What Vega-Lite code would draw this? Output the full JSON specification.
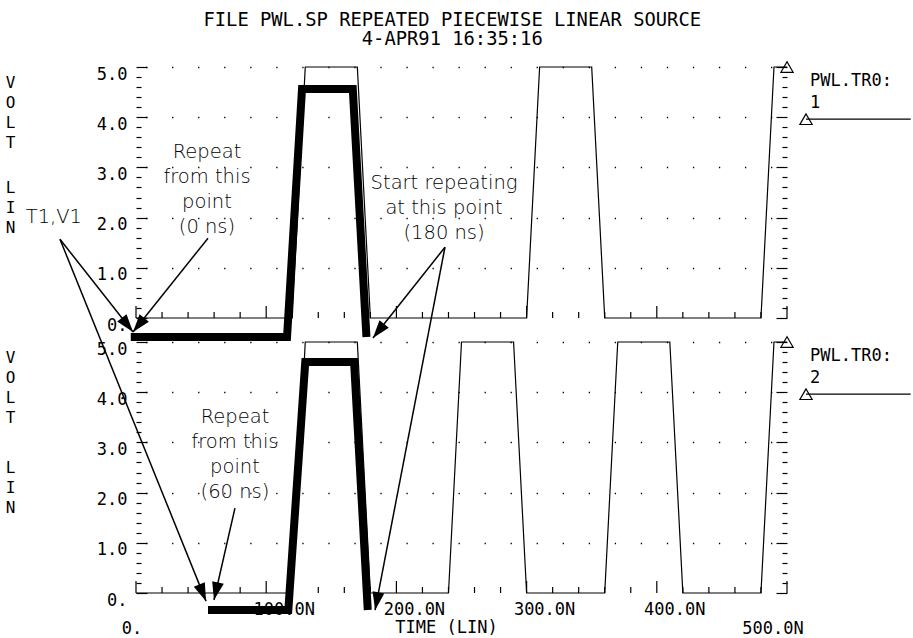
{
  "$schema": "https://vega.github.io/schema/vega-lite/v6.json",
  "background": "white",
  "padding": {"left": 5, "top": 10, "right": 0, "bottom": 4},
  "config": {"view": {"stroke": null}},
  "title": {"text": ["FILE PWL.SP REPEATED PIECEWISE LINEAR SOURCE", "4-APR91 16:35:16"], "font": "DejaVu Sans Mono", "fontSize": 18.8, "fontWeight": "normal", "lineHeight": 19.5, "color": "black", "anchor": "middle", "offset": 10, "dx": -6},
  "datasets": {
    "trace1": [{"t":0,"v":0},{"t":120,"v":0},{"t":130,"v":5},{"t":170,"v":5},{"t":180,"v":0},{"t":300,"v":0},{"t":310,"v":5},{"t":350,"v":5},{"t":360,"v":0},{"t":480,"v":0},{"t":490,"v":5},{"t":500,"v":5}],
    "trace2": [{"t":0,"v":0},{"t":120,"v":0},{"t":130,"v":5},{"t":170,"v":5},{"t":180,"v":0},{"t":240,"v":0},{"t":250,"v":5},{"t":290,"v":5},{"t":300,"v":0},{"t":360,"v":0},{"t":370,"v":5},{"t":410,"v":5},{"t":420,"v":0},{"t":480,"v":0},{"t":490,"v":5},{"t":500,"v":5}],
    "ann1": [{"t":-4,"v":-0.38},{"t":116,"v":-0.38},{"t":127.5,"v":4.56},{"t":166.5,"v":4.56},{"t":177,"v":-0.38}],
    "ann2": [{"t":55.3,"v":-0.34},{"t":117,"v":-0.34},{"t":130,"v":4.6},{"t":167.5,"v":4.6},{"t":178,"v":-0.34}],
    "arrows1": [{"t1":-58.4,"v1":1.57,"t2":-2.3,"v2":-0.28},{"t1":55.3,"v1":1.59,"t2":-2.3,"v2":-0.28},{"t1":-58.4,"v1":1.57,"t2":53.8,"v2":-5.64},{"t1":237.3,"v1":1.41,"t2":182.0,"v2":-0.40},{"t1":237.3,"v1":1.41,"t2":183.6,"v2":-5.82}],
    "arrows2": [{"t1":76.0,"v1":1.69,"t2":59.9,"v2":-0.14}],
    "notes1": [{"t":54.5,"v":3.31,"label":"Repeat\nfrom this\npoint\n(0 ns)"},{"t":236.6,"v":2.69,"label":"Start repeating\nat this point\n(180 ns)"},{"t":-63.1,"v":2.01,"label":"T1,V1"}],
    "notes2": [{"t":76.0,"v":3.51,"label":"Repeat\nfrom this\npoint\n(60 ns)"}],
    "tri": [{"t":500,"v":5},{"t":514.6,"v":3.96}],
    "legline": [{"t":514.6,"t2":595,"v":3.96}],
    "leg1": [{"t":517.7,"v":4.72,"label":"PWL.TR0:"},{"t":517.7,"v":4.28,"label":"1"}],
    "leg2": [{"t":517.7,"v":4.72,"label":"PWL.TR0:"},{"t":517.7,"v":4.28,"label":"2"}],
    "xticks": [{"t":0},{"t":20},{"t":40},{"t":60},{"t":80},{"t":100},{"t":120},{"t":140},{"t":160},{"t":180},{"t":200},{"t":220},{"t":240},{"t":260},{"t":280},{"t":300},{"t":320},{"t":340},{"t":360},{"t":380},{"t":400},{"t":420},{"t":440},{"t":460},{"t":480},{"t":500}],
    "xlabels": [{"t":0,"label":"0."},{"t":100,"label":"100.0N"},{"t":200,"label":"200.0N"},{"t":300,"label":"300.0N"},{"t":400,"label":"400.0N"},{"t":500,"label":"500.0N"}],
    "xtitle": [{"label":"TIME (LIN)"}]
  },
  "spacing": 24,
  "bounds": "flush",
  "vconcat": [
    {
      "width": 651, "height": 251,
      "resolve": {"axis": {"y": "independent"}},
      "layer": [
        {
          "data": {"name": "trace1"},
          "mark": {"type": "line", "color": "black", "strokeWidth": 1.2, "clip": false},
          "encoding": {
            "x": {"field": "t", "type": "quantitative", "scale": {"domain": [0, 500], "nice": false, "zero": false},
              "axis": {"values": [0,100,200,300,400,500], "domain": false, "ticks": false, "labels": false, "title": null,
                "grid": true, "gridColor": "black", "gridWidth": 1.3, "gridDash": [1.3, 23.8],
                "gridOpacity": {"condition": {"test": "datum.value > 0 && datum.value < 500", "value": 1}, "value": 0}}},
            "y": {"field": "v", "type": "quantitative", "scale": {"domain": [0, 5], "nice": false, "zero": false},
              "axis": {"orient": "left", "values": [0,0.2,0.4,0.6,0.8,1,1.2,1.4,1.6,1.8,2,2.2,2.4,2.6,2.8,3,3.2,3.4,3.6,3.8,4,4.2,4.4,4.6,4.8,5], "domain": false, "tickColor": "black", "tickWidth": 1.2,
                "tickSize": {"condition": {"test": "datum.value === round(datum.value)", "value": -11}, "value": -5},
                "labelExpr": "datum.value === round(datum.value) ? (datum.value === 0 ? '0.' : format(datum.value, '.1f')) : ''",
                "labelFont": "DejaVu Sans Mono", "labelFontSize": 17, "labelColor": "black", "labelPadding": 20, "labelOffset": 7, "labelOverlap": false, "labelBound": false, "labelFlush": false,
                "grid": true, "gridColor": "black", "gridWidth": 1.3, "gridDash": [1.3, 24.74], "gridDashOffset": 16.5,
                "gridOpacity": {"condition": {"test": "datum.value === round(datum.value) && datum.value > 0", "value": 1}, "value": 0},
                "title": ["V","O","L","T"], "titleAngle": 0, "titleFont": "DejaVu Sans Mono", "titleFontSize": 16, "titleFontWeight": "normal", "titleColor": "black", "titleLineHeight": 20.3, "titleX": -126, "titleY": 15, "titleAlign": "center", "titleBaseline": "middle"}}
          }
        },
        {
          "data": {"name": "tri"},
          "mark": {"type": "point", "shape": "triangle-up", "size": 150, "filled": false, "color": "black", "strokeWidth": 1.2, "opacity": 1, "clip": false},
          "encoding": {
            "x": {"field": "t", "type": "quantitative", "scale": {"domain": [0, 500], "nice": false, "zero": false}, "axis": null},
            "y": {"field": "v", "type": "quantitative", "scale": {"domain": [0, 5], "nice": false, "zero": false},
              "axis": {"orient": "right", "values": [0,0.2,0.4,0.6,0.8,1,1.2,1.4,1.6,1.8,2,2.2,2.4,2.6,2.8,3,3.2,3.4,3.6,3.8,4,4.2,4.4,4.6,4.8,5], "domain": false, "labels": false, "grid": false, "tickColor": "black", "tickWidth": 1.2,
                "tickSize": {"condition": {"test": "datum.value === round(datum.value)", "value": -11}, "value": -5},
                "title": ["L","I","N"], "titleAngle": 0, "titleFont": "DejaVu Sans Mono", "titleFontSize": 16, "titleFontWeight": "normal", "titleColor": "black", "titleLineHeight": 20.3, "titleX": -777, "titleY": 120, "titleAlign": "center", "titleBaseline": "middle"}}
          }
        },
        {
          "data": {"name": "xticks"},
          "transform": [{"filter": "datum.t % 100 !== 0"}],
          "mark": {"type": "rule", "color": "black", "strokeWidth": 1.2, "clip": false},
          "encoding": {
            "x": {"field": "t", "type": "quantitative", "scale": {"domain": [0, 500], "nice": false, "zero": false}, "axis": null},
            "y": {"datum": 0, "type": "quantitative", "scale": {"domain": [0, 5], "nice": false, "zero": false}, "axis": null},
            "y2": {"datum": 0.12}
          }
        },
        {
          "data": {"name": "xticks"},
          "transform": [{"filter": "datum.t % 100 === 0"}],
          "mark": {"type": "rule", "color": "black", "strokeWidth": 1.2, "clip": false},
          "encoding": {
            "x": {"field": "t", "type": "quantitative", "scale": {"domain": [0, 500], "nice": false, "zero": false}, "axis": null},
            "y": {"datum": 0, "type": "quantitative", "scale": {"domain": [0, 5], "nice": false, "zero": false}, "axis": null},
            "y2": {"datum": 0.24}
          }
        },
        {
          "data": {"name": "ann1"},
          "mark": {"type": "line", "color": "black", "strokeWidth": 8, "strokeJoin": "miter", "strokeCap": "butt", "clip": false},
          "encoding": {
            "x": {"field": "t", "type": "quantitative", "scale": {"domain": [0, 500], "nice": false, "zero": false}, "axis": null},
            "y": {"field": "v", "type": "quantitative", "scale": {"domain": [0, 5], "nice": false, "zero": false}, "axis": null}
          }
        },
        {
          "data": {"name": "arrows1"},
          "mark": {"type": "rule", "color": "black", "strokeWidth": 1.5, "clip": false},
          "encoding": {
            "x": {"field": "t1", "type": "quantitative", "scale": {"domain": [0, 500], "nice": false, "zero": false}, "axis": null},
            "y": {"field": "v1", "type": "quantitative", "scale": {"domain": [0, 5], "nice": false, "zero": false}, "axis": null},
            "x2": {"field": "t2"},
            "y2": {"field": "v2"}
          }
        },
        {
          "data": {"name": "arrows1"},
          "transform": [{"calculate": "atan2((datum.t2 - datum.t1) * 651 / 500, (datum.v2 - datum.v1) * 251 / 5) * 180 / PI", "as": "ang"}],
          "mark": {"type": "point", "shape": "M0,0L-0.33,1L0.33,1Z", "size": 1300, "filled": true, "color": "black", "opacity": 1, "strokeWidth": 0, "clip": false},
          "encoding": {
            "x": {"field": "t2", "type": "quantitative", "scale": {"domain": [0, 500], "nice": false, "zero": false}, "axis": null},
            "y": {"field": "v2", "type": "quantitative", "scale": {"domain": [0, 5], "nice": false, "zero": false}, "axis": null},
            "angle": {"field": "ang", "type": "quantitative", "scale": null}
          }
        },
        {
          "data": {"name": "notes1"},
          "mark": {"type": "text", "font": "DejaVu Sans", "fontWeight": 200, "fontSize": 19.5, "lineHeight": 25, "lineBreak": "\n", "align": "center", "baseline": "middle", "color": "black", "clip": false},
          "encoding": {
            "x": {"field": "t", "type": "quantitative", "scale": {"domain": [0, 500], "nice": false, "zero": false}, "axis": null},
            "y": {"field": "v", "type": "quantitative", "scale": {"domain": [0, 5], "nice": false, "zero": false}, "axis": null},
            "text": {"field": "label"}
          }
        },
        {
          "data": {"name": "leg1"},
          "mark": {"type": "text", "font": "DejaVu Sans Mono", "fontSize": 17, "align": "left", "baseline": "middle", "color": "black", "clip": false},
          "encoding": {
            "x": {"field": "t", "type": "quantitative", "scale": {"domain": [0, 500], "nice": false, "zero": false}, "axis": null},
            "y": {"field": "v", "type": "quantitative", "scale": {"domain": [0, 5], "nice": false, "zero": false}, "axis": null},
            "text": {"field": "label"}
          }
        },
        {
          "data": {"name": "legline"},
          "mark": {"type": "rule", "color": "black", "strokeWidth": 1.2, "clip": false},
          "encoding": {
            "x": {"field": "t", "type": "quantitative", "scale": {"domain": [0, 500], "nice": false, "zero": false}, "axis": null},
            "x2": {"field": "t2"},
            "y": {"field": "v", "type": "quantitative", "scale": {"domain": [0, 5], "nice": false, "zero": false}, "axis": null}
          }
        }
      ]
    },
    {
      "width": 651, "height": 251,
      "resolve": {"axis": {"y": "independent"}},
      "layer": [
        {
          "data": {"name": "trace2"},
          "mark": {"type": "line", "color": "black", "strokeWidth": 1.2, "clip": false},
          "encoding": {
            "x": {"field": "t", "type": "quantitative", "scale": {"domain": [0, 500], "nice": false, "zero": false},
              "axis": {"values": [0,100,200,300,400,500], "domain": false, "ticks": false, "labels": false, "title": null,
                "grid": true, "gridColor": "black", "gridWidth": 1.3, "gridDash": [1.3, 23.8],
                "gridOpacity": {"condition": {"test": "datum.value > 0 && datum.value < 500", "value": 1}, "value": 0}}},
            "y": {"field": "v", "type": "quantitative", "scale": {"domain": [0, 5], "nice": false, "zero": false},
              "axis": {"orient": "left", "values": [0,0.2,0.4,0.6,0.8,1,1.2,1.4,1.6,1.8,2,2.2,2.4,2.6,2.8,3,3.2,3.4,3.6,3.8,4,4.2,4.4,4.6,4.8,5], "domain": false, "tickColor": "black", "tickWidth": 1.2,
                "tickSize": {"condition": {"test": "datum.value === round(datum.value)", "value": -11}, "value": -5},
                "labelExpr": "datum.value === round(datum.value) ? (datum.value === 0 ? '0.' : format(datum.value, '.1f')) : ''",
                "labelFont": "DejaVu Sans Mono", "labelFontSize": 17, "labelColor": "black", "labelPadding": 20, "labelOffset": 7, "labelOverlap": false, "labelBound": false, "labelFlush": false,
                "grid": true, "gridColor": "black", "gridWidth": 1.3, "gridDash": [1.3, 24.74], "gridDashOffset": 16.5,
                "gridOpacity": {"condition": {"test": "datum.value === round(datum.value) && datum.value > 0", "value": 1}, "value": 0},
                "title": ["V","O","L","T"], "titleAngle": 0, "titleFont": "DejaVu Sans Mono", "titleFontSize": 16, "titleFontWeight": "normal", "titleColor": "black", "titleLineHeight": 20.3, "titleX": -126, "titleY": 15, "titleAlign": "center", "titleBaseline": "middle"}}
          }
        },
        {
          "data": {"name": "tri"},
          "mark": {"type": "point", "shape": "triangle-up", "size": 150, "filled": false, "color": "black", "strokeWidth": 1.2, "opacity": 1, "clip": false},
          "encoding": {
            "x": {"field": "t", "type": "quantitative", "scale": {"domain": [0, 500], "nice": false, "zero": false}, "axis": null},
            "y": {"field": "v", "type": "quantitative", "scale": {"domain": [0, 5], "nice": false, "zero": false},
              "axis": {"orient": "right", "values": [0,0.2,0.4,0.6,0.8,1,1.2,1.4,1.6,1.8,2,2.2,2.4,2.6,2.8,3,3.2,3.4,3.6,3.8,4,4.2,4.4,4.6,4.8,5], "domain": false, "labels": false, "grid": false, "tickColor": "black", "tickWidth": 1.2,
                "tickSize": {"condition": {"test": "datum.value === round(datum.value)", "value": -11}, "value": -5},
                "title": ["L","I","N"], "titleAngle": 0, "titleFont": "DejaVu Sans Mono", "titleFontSize": 16, "titleFontWeight": "normal", "titleColor": "black", "titleLineHeight": 20.3, "titleX": -777, "titleY": 125, "titleAlign": "center", "titleBaseline": "middle"}}
          }
        },
        {
          "data": {"name": "xticks"},
          "transform": [{"filter": "datum.t % 100 !== 0"}],
          "mark": {"type": "rule", "color": "black", "strokeWidth": 1.2, "clip": false},
          "encoding": {
            "x": {"field": "t", "type": "quantitative", "scale": {"domain": [0, 500], "nice": false, "zero": false}, "axis": null},
            "y": {"datum": 0, "type": "quantitative", "scale": {"domain": [0, 5], "nice": false, "zero": false}, "axis": null},
            "y2": {"datum": 0.12}
          }
        },
        {
          "data": {"name": "xticks"},
          "transform": [{"filter": "datum.t % 100 === 0"}],
          "mark": {"type": "rule", "color": "black", "strokeWidth": 1.2, "clip": false},
          "encoding": {
            "x": {"field": "t", "type": "quantitative", "scale": {"domain": [0, 500], "nice": false, "zero": false}, "axis": null},
            "y": {"datum": 0, "type": "quantitative", "scale": {"domain": [0, 5], "nice": false, "zero": false}, "axis": null},
            "y2": {"datum": 0.24}
          }
        },
        {
          "data": {"name": "xlabels"},
          "transform": [{"filter": "datum.t > 0 && datum.t < 500"}],
          "mark": {"type": "text", "font": "DejaVu Sans Mono", "fontSize": 17, "align": "center", "baseline": "middle", "dx": 18, "dy": 16.5, "color": "black", "clip": false},
          "encoding": {
            "x": {"field": "t", "type": "quantitative", "scale": {"domain": [0, 500], "nice": false, "zero": false}, "axis": null},
            "y": {"datum": 0, "type": "quantitative", "scale": {"domain": [0, 5], "nice": false, "zero": false}, "axis": null},
            "text": {"field": "label"}
          }
        },
        {
          "data": {"name": "xlabels"},
          "transform": [{"filter": "datum.t === 0"}],
          "mark": {"type": "text", "font": "DejaVu Sans Mono", "fontSize": 17, "align": "center", "baseline": "middle", "dx": -4, "dy": 35.5, "color": "black", "clip": false},
          "encoding": {
            "x": {"field": "t", "type": "quantitative", "scale": {"domain": [0, 500], "nice": false, "zero": false}, "axis": null},
            "y": {"datum": 0, "type": "quantitative", "scale": {"domain": [0, 5], "nice": false, "zero": false}, "axis": null},
            "text": {"field": "label"}
          }
        },
        {
          "data": {"name": "xlabels"},
          "transform": [{"filter": "datum.t === 500"}],
          "mark": {"type": "text", "font": "DejaVu Sans Mono", "fontSize": 17, "align": "center", "baseline": "middle", "dx": -14, "dy": 35.5, "color": "black", "clip": false},
          "encoding": {
            "x": {"field": "t", "type": "quantitative", "scale": {"domain": [0, 500], "nice": false, "zero": false}, "axis": null},
            "y": {"datum": 0, "type": "quantitative", "scale": {"domain": [0, 5], "nice": false, "zero": false}, "axis": null},
            "text": {"field": "label"}
          }
        },
        {
          "data": {"name": "xtitle"},
          "mark": {"type": "text", "font": "DejaVu Sans Mono", "fontSize": 17, "align": "center", "baseline": "middle", "dx": -15, "dy": 35, "color": "black", "clip": false},
          "encoding": {
            "x": {"datum": 250, "type": "quantitative", "scale": {"domain": [0, 500], "nice": false, "zero": false}, "axis": null},
            "y": {"datum": 0, "type": "quantitative", "scale": {"domain": [0, 5], "nice": false, "zero": false}, "axis": null},
            "text": {"field": "label"}
          }
        },
        {
          "data": {"name": "ann2"},
          "mark": {"type": "line", "color": "black", "strokeWidth": 8, "strokeJoin": "miter", "strokeCap": "butt", "clip": false},
          "encoding": {
            "x": {"field": "t", "type": "quantitative", "scale": {"domain": [0, 500], "nice": false, "zero": false}, "axis": null},
            "y": {"field": "v", "type": "quantitative", "scale": {"domain": [0, 5], "nice": false, "zero": false}, "axis": null}
          }
        },
        {
          "data": {"name": "arrows2"},
          "mark": {"type": "rule", "color": "black", "strokeWidth": 1.5, "clip": false},
          "encoding": {
            "x": {"field": "t1", "type": "quantitative", "scale": {"domain": [0, 500], "nice": false, "zero": false}, "axis": null},
            "y": {"field": "v1", "type": "quantitative", "scale": {"domain": [0, 5], "nice": false, "zero": false}, "axis": null},
            "x2": {"field": "t2"},
            "y2": {"field": "v2"}
          }
        },
        {
          "data": {"name": "arrows2"},
          "transform": [{"calculate": "atan2((datum.t2 - datum.t1) * 651 / 500, (datum.v2 - datum.v1) * 251 / 5) * 180 / PI", "as": "ang"}],
          "mark": {"type": "point", "shape": "M0,0L-0.33,1L0.33,1Z", "size": 1300, "filled": true, "color": "black", "opacity": 1, "strokeWidth": 0, "clip": false},
          "encoding": {
            "x": {"field": "t2", "type": "quantitative", "scale": {"domain": [0, 500], "nice": false, "zero": false}, "axis": null},
            "y": {"field": "v2", "type": "quantitative", "scale": {"domain": [0, 5], "nice": false, "zero": false}, "axis": null},
            "angle": {"field": "ang", "type": "quantitative", "scale": null}
          }
        },
        {
          "data": {"name": "notes2"},
          "mark": {"type": "text", "font": "DejaVu Sans", "fontWeight": 200, "fontSize": 19.5, "lineHeight": 25, "lineBreak": "\n", "align": "center", "baseline": "middle", "color": "black", "clip": false},
          "encoding": {
            "x": {"field": "t", "type": "quantitative", "scale": {"domain": [0, 500], "nice": false, "zero": false}, "axis": null},
            "y": {"field": "v", "type": "quantitative", "scale": {"domain": [0, 5], "nice": false, "zero": false}, "axis": null},
            "text": {"field": "label"}
          }
        },
        {
          "data": {"name": "leg2"},
          "mark": {"type": "text", "font": "DejaVu Sans Mono", "fontSize": 17, "align": "left", "baseline": "middle", "color": "black", "clip": false},
          "encoding": {
            "x": {"field": "t", "type": "quantitative", "scale": {"domain": [0, 500], "nice": false, "zero": false}, "axis": null},
            "y": {"field": "v", "type": "quantitative", "scale": {"domain": [0, 5], "nice": false, "zero": false}, "axis": null},
            "text": {"field": "label"}
          }
        },
        {
          "data": {"name": "legline"},
          "mark": {"type": "rule", "color": "black", "strokeWidth": 1.2, "clip": false},
          "encoding": {
            "x": {"field": "t", "type": "quantitative", "scale": {"domain": [0, 500], "nice": false, "zero": false}, "axis": null},
            "x2": {"field": "t2"},
            "y": {"field": "v", "type": "quantitative", "scale": {"domain": [0, 5], "nice": false, "zero": false}, "axis": null}
          }
        }
      ]
    }
  ]
}
